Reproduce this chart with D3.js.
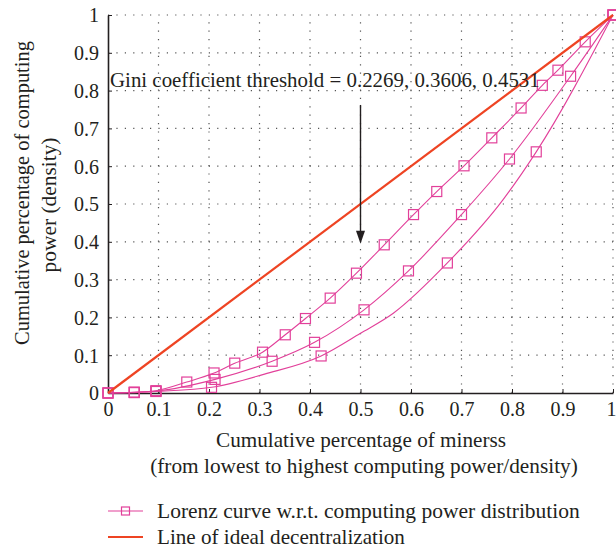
<!DOCTYPE html>
<html>
<head>
<meta charset="utf-8">
<script src="https://cdn.jsdelivr.net/npm/d3@7"></script>
<style>
  html, body { margin: 0; padding: 0; background: #fff; }
  svg text { font-family: "Liberation Serif", "Tinos", "Times New Roman", "DejaVu Serif", "Noto Serif", serif; fill: #231f20; }
</style>
</head>
<body>
<svg id="chart" width="616" height="550"></svg>
<script>
// ---------------- data ----------------
const xTicks = [0, 0.1, 0.2, 0.3, 0.4, 0.5, 0.6, 0.7, 0.8, 0.9, 1];
const xTickLabels = ["0", "0.1", "0.2", "0.3", "0.4", "0.5", "0.6", "0.7", "0.8", "0.9", "1"];
const yTicks = [0, 0.1, 0.2, 0.3, 0.4, 0.5, 0.6, 0.7, 0.8, 0.9, 1];
const yTickLabels = ["0", "0.1", "0.2", "0.3", "0.4", "0.5", "0.6", "0.7", "0.8", "0.9", "1"];

// Line of ideal decentralization
const idealX = [0, 1];
const idealY = [0, 1];

// Lorenz curve 1 (Gini 0.2269) – line and markers
const lorenz1X = [0, 0.052, 0.095, 0.156, 0.21, 0.251, 0.306, 0.351, 0.391, 0.44, 0.492, 0.547, 0.605, 0.651, 0.705, 0.76, 0.818, 0.86, 0.891, 0.945, 1];
const lorenz1Y = [0, 0.002, 0.006, 0.029, 0.053, 0.079, 0.108, 0.154, 0.197, 0.251, 0.317, 0.392, 0.472, 0.533, 0.601, 0.675, 0.754, 0.814, 0.854, 0.929, 1];
const lorenz1MarkX = lorenz1X;
const lorenz1MarkY = lorenz1Y;

// Lorenz curve 2 (Gini 0.3606)
const lorenz2X = [0, 0.052, 0.095, 0.212, 0.325, 0.409, 0.507, 0.595, 0.7, 0.795, 0.916, 1];
const lorenz2Y = [0, 0.002, 0.005, 0.036, 0.084, 0.134, 0.22, 0.323, 0.472, 0.619, 0.838, 1];
const lorenz2MarkX = lorenz2X;
const lorenz2MarkY = lorenz2Y;

// Lorenz curve 3 (Gini 0.4531)
const lorenz3X = [0, 0.052, 0.095, 0.205, 0.31, 0.422, 0.5, 0.565, 0.672, 0.782, 0.848, 1];
const lorenz3Y = [0, 0.001, 0.004, 0.015, 0.05, 0.098, 0.158, 0.211, 0.344, 0.511, 0.638, 1];
const lorenz3MarkX = [0, 0.052, 0.095, 0.205, 0.422, 0.672, 0.848, 1];
const lorenz3MarkY = [0, 0.001, 0.004, 0.015, 0.098, 0.344, 0.638, 1];

const annotationText = "Gini coefficient threshold = 0.2269, 0.3606, 0.4531";
const arrowX = 0.5, arrowFromY = 0.762, arrowToY = 0.395;

const xTitle = ["Cumulative percentage of minerss", "(from lowest to highest computing power/density)"];
const yTitle = ["Cumulative percentage of computing", "power (density)"];
const legendLabels = ["Lorenz curve w.r.t. computing power distribution", "Line of ideal decentralization"];

// ---------------- drawing ----------------
const fontStack = '"Liberation Serif", "Tinos", "Times New Roman", "DejaVu Serif", serif';
const pink = "#e2409a";
const red = "#ee4423";
const svg = d3.select("#chart");

// scale a text's font size so its rendered width matches the target width
function fit(sel, width, base) {
  sel.style("font-family", fontStack).attr("font-size", base);
  const w = sel.node().getComputedTextLength();
  if (w > 0) sel.attr("font-size", Math.min(24, base * width / w));
  return sel;
}

const x = d3.scaleLinear().domain([0, 1]).range([108, 613]);
const y = d3.scaleLinear().domain([0, 1]).range([393, 15]);

// grid (dotted)
const grid = svg.append("g");
grid.selectAll("line.gx").data(xTicks.filter(d => d > 0)).join("line")
  .attr("x1", d => x(d)).attr("x2", d => x(d)).attr("y1", y(0)).attr("y2", y(1))
  .attr("stroke", "#555").attr("stroke-width", 1.2).attr("stroke-dasharray", "1.2,7.2");
grid.selectAll("line.gy").data(yTicks.filter(d => d > 0)).join("line")
  .attr("y1", d => y(d)).attr("y2", d => y(d)).attr("x1", x(0)).attr("x2", x(1))
  .attr("stroke", "#555").attr("stroke-width", 1.2).attr("stroke-dasharray", "1.2,7.2");

// axes
const xAxis = d3.axisBottom(x).tickValues(xTicks)
  .tickFormat((d, i) => xTickLabels[i]).tickSizeInner(-4).tickSizeOuter(0).tickPadding(9);
const yAxis = d3.axisLeft(y).tickValues(yTicks)
  .tickFormat((d, i) => yTickLabels[i]).tickSizeInner(-4).tickSizeOuter(0).tickPadding(9);

const gx = svg.append("g").attr("transform", `translate(0,${y(0)})`).call(xAxis);
const gy = svg.append("g").attr("transform", `translate(${x(0)},0)`).call(yAxis);
// tick font size: fit "0.9" to ~25px
const probe = fit(svg.append("text").text("0.9"), 25, 20);
const tickFs = +probe.attr("font-size");
probe.remove();
[gx, gy].forEach(g => {
  g.attr("font-family", fontStack);
  g.select(".domain").attr("stroke", "#231f20").attr("stroke-width", 1.6);
  g.selectAll(".tick line").attr("stroke", "#231f20").attr("stroke-width", 1);
  g.selectAll(".tick text").style("font-family", fontStack).attr("font-size", tickFs).attr("fill", "#231f20");
});
gx.selectAll(".tick text").attr("dy", "0.72em");
gy.selectAll(".tick text").attr("dy", "0.34em");
// keep the last x label inside the picture edge
gx.selectAll(".tick text").filter(d => d === 1).attr("text-anchor", "end").attr("x", 3);

// lines
const line = d3.line().x(d => x(d[0])).y(d => y(d[1])).curve(d3.curveMonotoneX);
const series = [
  { lx: lorenz1X, ly: lorenz1Y, mx: lorenz1MarkX, my: lorenz1MarkY },
  { lx: lorenz2X, ly: lorenz2Y, mx: lorenz2MarkX, my: lorenz2MarkY },
  { lx: lorenz3X, ly: lorenz3Y, mx: lorenz3MarkX, my: lorenz3MarkY }
];
const ms = 10;
series.forEach(s => {
  svg.append("path").datum(s.lx.map((v, i) => [v, s.ly[i]]))
    .attr("d", line).attr("fill", "none").attr("stroke", pink).attr("stroke-width", 1.1);
});
series.forEach(s => {
  svg.append("g").selectAll("rect").data(s.mx.map((v, i) => [v, s.my[i]])).join("rect")
    .attr("x", d => x(d[0]) - ms / 2).attr("y", d => y(d[1]) - ms / 2)
    .attr("width", ms).attr("height", ms)
    .attr("fill", "none").attr("stroke", pink).attr("stroke-width", 1.2);
});

// ideal line
svg.append("path").datum(idealX.map((v, i) => [v, idealY[i]]))
  .attr("d", d3.line().x(d => x(d[0])).y(d => y(d[1])))
  .attr("fill", "none").attr("stroke", red).attr("stroke-width", 2.2);

// annotation
fit(svg.append("text").attr("x", 110).attr("y", 87).text(annotationText), 430, 20);
const ax = x(arrowX), ay1 = y(arrowFromY), ay2 = y(arrowToY);
svg.append("line").attr("x1", ax).attr("x2", ax).attr("y1", ay1).attr("y2", ay2 - 10)
  .attr("stroke", "#231f20").attr("stroke-width", 1.4);
svg.append("path")
  .attr("d", `M${ax - 4.5},${ay2 - 13} L${ax + 4.5},${ay2 - 13} L${ax},${ay2} Z`)
  .attr("fill", "#231f20");

// axis titles
fit(svg.append("text").attr("x", 361).attr("y", 447).attr("text-anchor", "middle").text(xTitle[0]), 290, 20);
fit(svg.append("text").attr("x", 364).attr("y", 473).attr("text-anchor", "middle").text(xTitle[1]), 428, 20);
fit(svg.append("text").attr("transform", "translate(29,193) rotate(-90)").attr("text-anchor", "middle").text(yTitle[0]), 304, 20);
fit(svg.append("text").attr("transform", "translate(56,205) rotate(-90)").attr("text-anchor", "middle").text(yTitle[1]), 135, 20);

// legend
const lg = svg.append("g");
lg.append("line").attr("x1", 108).attr("x2", 143).attr("y1", 511).attr("y2", 511).attr("stroke", pink).attr("stroke-width", 1.1);
lg.append("rect").attr("x", 125.5 - 4).attr("y", 511 - 4).attr("width", 8).attr("height", 8).attr("fill", "none").attr("stroke", pink).attr("stroke-width", 1.2);
fit(lg.append("text").attr("x", 157).attr("y", 518).text(legendLabels[0]), 423, 20);
lg.append("line").attr("x1", 108).attr("x2", 143).attr("y1", 537).attr("y2", 537).attr("stroke", red).attr("stroke-width", 2.2);
fit(lg.append("text").attr("x", 157).attr("y", 544).text(legendLabels[1]), 248, 20);
</script>
</body>
</html>
